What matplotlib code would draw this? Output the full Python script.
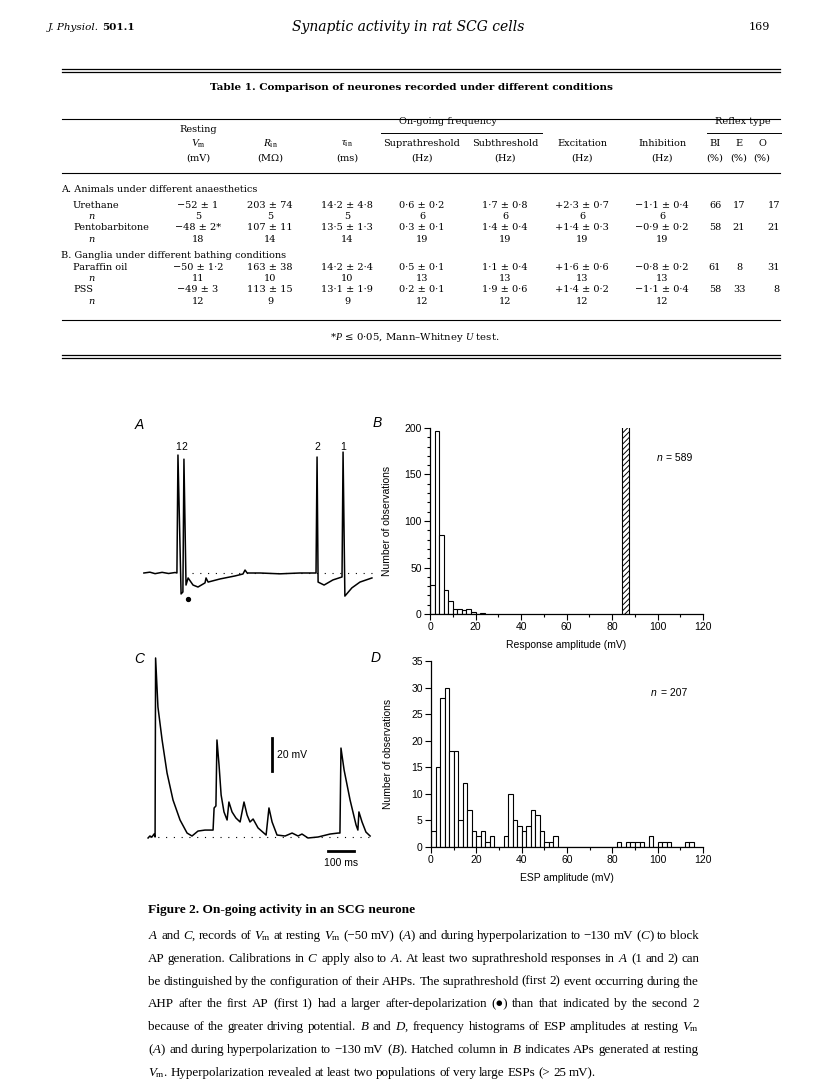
import numpy as np
import matplotlib
matplotlib.use('Agg')
import matplotlib.pyplot as plt
from matplotlib.lines import Line2D
from matplotlib.ticker import MultipleLocator

plt.rcParams['mathtext.fontset'] = 'custom'
plt.rcParams['mathtext.rm'] = 'Liberation Serif'
plt.rcParams['mathtext.it'] = 'Liberation Serif:italic'
plt.rcParams['mathtext.bf'] = 'Liberation Serif:bold'
plt.rcParams['hatch.linewidth'] = 0.7

SERIF = 'DejaVu Serif'
CAP = ['Liberation Serif', 'DejaVu Serif']
SANS = 'Liberation Sans'

# ---- Table 1 values
groups = ['A. Animals under different anaesthetics',
          'B. Ganglia under different bathing conditions']
conditions = ['Urethane', 'Pentobarbitone', 'Paraffin oil', 'PSS']
vm = ['\u221252 \u00b1 1', '\u221248 \u00b1 2*', '\u221250 \u00b1 1\u00b72', '\u221249 \u00b1 3']
vm_n = [5, 18, 11, 12]
rin = ['203 \u00b1 74', '107 \u00b1 11', '163 \u00b1 38', '113 \u00b1 15']
rin_n = [5, 14, 10, 9]
tau = ['14\u00b72 \u00b1 4\u00b78', '13\u00b75 \u00b1 1\u00b73', '14\u00b72 \u00b1 2\u00b74', '13\u00b71 \u00b1 1\u00b79']
tau_n = [5, 14, 10, 9]
supra = ['0\u00b76 \u00b1 0\u00b72', '0\u00b73 \u00b1 0\u00b71', '0\u00b75 \u00b1 0\u00b71', '0\u00b72 \u00b1 0\u00b71']
subth = ['1\u00b77 \u00b1 0\u00b78', '1\u00b74 \u00b1 0\u00b74', '1\u00b71 \u00b1 0\u00b74', '1\u00b79 \u00b1 0\u00b76']
excit = ['+2\u00b73 \u00b1 0\u00b77', '+1\u00b74 \u00b1 0\u00b73', '+1\u00b76 \u00b1 0\u00b76', '+1\u00b74 \u00b1 0\u00b72']
inhib = ['\u22121\u00b71 \u00b1 0\u00b74', '\u22120\u00b79 \u00b1 0\u00b72', '\u22120\u00b78 \u00b1 0\u00b72', '\u22121\u00b71 \u00b1 0\u00b74']
freq_n = [6, 19, 13, 12]
reflex_bi = [66, 58, 61, 58]
reflex_e = [17, 21, 8, 33]
reflex_o = [17, 21, 31, 8]

# ---- histogram B (2 mV bins from 0), hatched column = APs
b_counts = [31, 197, 85, 26, 14, 5, 5, 4, 5, 2, 0, 1]
ap_left, ap_count = 84.5, 214
# ---- histogram D (2 mV bins from 0)
d_counts = [3, 15, 28, 30, 18, 18, 5, 12, 7, 3,
            2, 3, 1, 2, 0, 0, 2, 10, 5, 4,
            3, 4, 7, 6, 3, 1, 1, 2, 0, 0,
            0, 0, 0, 0, 0, 0, 0, 0, 0, 0,
            0, 1, 0, 1, 1, 1, 1, 0, 2, 0,
            1, 1, 1, 0, 0, 0, 1, 1]

# ---- voltage records (ms, mV)
a_t = [15, 38, 58, 85, 110, 135, 142, 146, 158, 165, 169, 177, 185, 204, 223, 250, 254, 262,
       308, 365, 396, 404, 412, 462, 538, 615, 677, 681, 685, 708, 742, 777, 781, 788, 815, 846, 892]
a_v = [-50, -49.5, -50.4, -49.6, -50.3, -49.7, -50, 21.5, -62.7, -61.5, 19, -57.3, -53, -57.3, -58.5, -56, -53, -55.5,
       -53.6, -51.8, -50.6, -48.2, -50, -50, -50.5, -50, -50, 20.3, -55.5, -57.3, -54.2, -52.4, 23.3, -64, -59, -55.5, -53]
c_t = [31, 38, 46, 54, 58, 60, 69, 85, 104, 127, 154, 181, 200, 223, 250, 281, 285, 292, 296, 304,
       312, 323, 335, 342, 354, 369, 385, 400, 412, 423, 435, 454, 485, 496, 508, 527, 558, 585,
       608, 623, 646, 685, 731, 762, 769, 773, 785, 808, 831, 838, 842, 854, 869, 885]
c_v = [-130.6, -129.4, -130, -128.2, -130, -21.5, -51.2, -71.2, -91.2, -107.6, -119.7, -127.6, -129.4, -126.4,
       -125.8, -125.8, -112.4, -111.2, -71.2, -86.4, -104.5, -114.8, -119.7, -108.8, -114.8, -118.5, -120.9,
       -108.8, -116.7, -120.9, -119.1, -124.5, -128.8, -112.4, -120.9, -128.8, -129.4, -127.6, -129.4, -128.2,
       -130.6, -130, -128.2, -127.6, -127.6, -76.1, -89.4, -107.6, -122.7, -125.8, -114.8, -120.9, -127, -129.4]

caption_title = 'Figure 2. On-going activity in an SCG neurone'
caption = [
    '$A$ and $C$, records of $V_\\mathrm{m}$ at resting $V_\\mathrm{m}$ (\u221250 mV) ($A$) and during hyperpolarization to \u2212130 mV ($C$) to block',
    'AP generation. Calibrations in $C$ apply also to $A$. At least two suprathreshold responses in $A$ (1 and 2) can',
    'be distinguished by the configuration of their AHPs. The suprathreshold (first 2) event occurring during the',
    'AHP after the first AP (first 1) had a larger after-depolarization (\u25cf) than that indicated by the second 2',
    'because of the greater driving potential. $B$ and $D$, frequency histograms of ESP amplitudes at resting $V_\\mathrm{m}$',
    '($A$) and during hyperpolarization to \u2212130 mV ($B$). Hatched column in $B$ indicates APs generated at resting',
    '$V_\\mathrm{m}$. Hyperpolarization revealed at least two populations of very large ESPs (> 25 mV).',
]

W, H = 816, 1088
fig = plt.figure(figsize=(W / 100, H / 100), dpi=100)
renderer = fig.canvas.get_renderer()


def fx(x):
    return x / W


def fy(y):
    return 1 - y / H


def txt(x, y, s, **kw):
    kw.setdefault('va', 'center')
    kw.setdefault('family', SERIF)
    return fig.text(fx(x), fy(y), s, **kw)


def hline(x0, x1, y, lw=0.9):
    fig.add_artist(Line2D([fx(x0), fx(x1)], [fy(y), fy(y)], transform=fig.transFigure,
                          color='black', lw=lw))


# running head
jp = txt(48, 27, 'J. Physiol.', style='italic', size=7.5, ha='left')
jp_w = jp.get_window_extent(renderer).width
txt(48 + jp_w + 3, 27, '501.1', weight='bold', size=7.5, ha='left')
txt(408, 27, 'Synaptic activity in rat SCG cells', style='italic', size=10, ha='center')
txt(770, 27, '169', size=8, ha='right')

# ---- table
L, R = 62, 780
hline(L, R, 69)
hline(L, R, 72)
txt(411, 88, 'Table 1. Comparison of neurones recorded under different conditions',
    weight='bold', size=7.5, ha='center')
hline(L, R, 119, lw=0.8)

fs = 7.0
txt(198, 129, 'Resting', size=fs, ha='center')
txt(448, 122, 'On-going frequency', size=fs, ha='center')
txt(743, 122, 'Reflex type', size=fs, ha='center')
hline(381, 542, 133, lw=0.7)
hline(707, 781, 133, lw=0.7)

cols = [198, 270, 347, 422, 505, 582, 662]
head2 = [r'$V_\mathrm{m}$', r'$R_\mathrm{in}$', r'$\tau_\mathrm{in}$',
         'Suprathreshold', 'Subthreshold', 'Excitation', 'Inhibition']
head3 = ['(mV)', '(M\u03a9)', '(ms)', '(Hz)', '(Hz)', '(Hz)', '(Hz)']
for x, h2, h3 in zip(cols, head2, head3):
    txt(x, 144, h2, size=fs + 1 if h2.startswith('$') else fs, ha='center')
    txt(x, 158, h3, size=fs, ha='center')
for x, h in zip([715, 739, 762], ['BI', 'E', 'O']):
    txt(x, 144, h, size=fs, ha='center')
    txt(x, 158, '(%)', size=fs, ha='center')
hline(L, R, 173, lw=0.8)

row_y = [205, 228, 267, 290]
group_y = [190, 255]
for gy, g in zip(group_y, groups):
    txt(61, gy, g, size=fs, ha='left')
for i, y in enumerate(row_y):
    ny = y + 11.5
    txt(73, y, conditions[i], size=fs, ha='left')
    txt(88, ny, 'n', size=fs, ha='left', style='italic')
    vals = [vm[i], rin[i], tau[i], supra[i], subth[i], excit[i], inhib[i]]
    ns = [vm_n[i], rin_n[i], tau_n[i], freq_n[i], freq_n[i], freq_n[i], freq_n[i]]
    for x, v, n in zip(cols, vals, ns):
        txt(x, y, v, size=fs, ha='center')
        txt(x, ny, str(n), size=fs, ha='center')
    txt(715, y, str(reflex_bi[i]), size=fs, ha='center')
    txt(739, y, str(reflex_e[i]), size=fs, ha='center')
    txt(780, y, str(reflex_o[i]), size=fs, ha='right')

hline(L, R, 320, lw=0.8)
txt(415, 337, '*$P$ \u2264 0\u00b705, Mann\u2013Whitney $U$ test.', size=fs + 0.3, ha='center')
hline(L, R, 355)
hline(L, R, 358)

# ---- voltage traces A and C (100 ms = 26 px, 20 mV = 33 px)
pxms, pxmv = 0.26, 1.65
axA = fig.add_axes([fx(140), fy(610), 235 / W, 175 / H])
axA.set_xlim(0, 235 / pxms)
axA.set_ylim(-50 - (610 - 573) / pxmv, -50 + (573 - 435) / pxmv)
axA.plot(a_t, a_v, color='black', lw=1.1, solid_joinstyle='round')
axA.plot([200, 892], [-50, -50], color='black', lw=0.8, ls=(0, (1, 6)))
for t, lab in zip([146, 169, 681, 781], ['1', '2', '2', '1']):
    axA.text(t, 26.5, lab, family=SANS, size=7.5, ha='center', va='center')
axA.plot([185], [-65.8], 'o', color='black', ms=2.8)
axA.axis('off')

axC = fig.add_axes([fx(140), fy(875), 235 / W, 225 / H])
axC.set_xlim(0, 235 / pxms)
axC.set_ylim(-130 - (875 - 837) / pxmv, -130 + (837 - 650) / pxmv)
axC.plot(c_t, c_v, color='black', lw=1.1, solid_joinstyle='round')
axC.plot([40, 890], [-130, -130], color='black', lw=0.8, ls=(0, (1, 6)))
axC.plot([508, 508], [-90, -70], color='black', lw=2)
axC.text(527, -80, '20 mV', family=SANS, size=7.5, ha='left', va='center')
axC.plot([723, 823], [-138.5, -138.5], color='black', lw=2)
axC.text(773, -145.5, '100 ms', family=SANS, size=7.5, ha='center', va='center')
axC.axis('off')

for x, y, lab in [(139, 425, 'A'), (377, 423, 'B'), (139, 659, 'C'), (376, 658, 'D')]:
    txt(x, y, lab, family=SANS, style='italic', size=10, ha='center')


# ---- histograms
def style_hist(ax, ymax, ymaj, ymin, xlabel, n_text, nx, ny):
    ax.set_xlim(0, 120)
    ax.set_ylim(0, ymax)
    ax.xaxis.set_major_locator(MultipleLocator(20))
    ax.xaxis.set_minor_locator(MultipleLocator(10))
    ax.yaxis.set_major_locator(MultipleLocator(ymaj))
    if ymin:
        ax.yaxis.set_minor_locator(MultipleLocator(ymin))
    for s in ['top', 'right']:
        ax.spines[s].set_visible(False)
    for s in ['left', 'bottom']:
        ax.spines[s].set_linewidth(0.9)
    ax.tick_params(which='major', direction='out', length=4, width=0.8, labelsize=7.5, pad=2)
    ax.tick_params(which='minor', direction='out', length=2.5, width=0.8)
    for lab in ax.get_xticklabels() + ax.get_yticklabels():
        lab.set_family(SANS)
    ax.set_xlabel(xlabel, family=SANS, size=7.5)
    ax.set_ylabel('Number of observations', family=SANS, size=7.5)
    ax.yaxis.set_label_coords(-0.14, 0.5)
    ax.xaxis.set_label_coords(0.5, -0.14)
    ax.text(nx, ny, 'n', family=SANS, style='italic', size=7.5, transform=ax.transAxes, va='center')
    ax.text(nx + 0.035, ny, '= ' + n_text, family=SANS, size=7.5, transform=ax.transAxes, va='center')


axB = fig.add_axes([fx(430), fy(614), 273 / W, 186 / H])
b_left = np.arange(len(b_counts)) * 2
axB.bar(b_left, b_counts, width=2, align='edge', facecolor='white', edgecolor='black', lw=0.8)
axB.bar([ap_left], [ap_count], width=3, align='edge', facecolor='white', edgecolor='black',
        lw=0.8, hatch='//////')
style_hist(axB, 200, 50, 10, 'Response amplitude (mV)', '589', 0.83, 0.84)

axD = fig.add_axes([fx(431), fy(847), 272 / W, 186 / H])
d_left = np.arange(len(d_counts)) * 2
axD.bar(d_left, d_counts, width=2, align='edge', facecolor='white', edgecolor='black', lw=0.8)
style_hist(axD, 35, 5, None, 'ESP amplitude (mV)', '207', 0.81, 0.83)

# ---- caption: one font size for all lines, full lines justified to the column width
cx0, cx1, min_gap, base = 148, 699, 2.8, 10.0
lines = []
for i, line in enumerate(caption):
    arts = [fig.text(0, 0, w, va='baseline', family=CAP, size=base) for w in line.split(' ')]
    lines.append(arts)
scale = min((cx1 - cx0 - min_gap * (len(a) - 1)) /
            sum(t.get_window_extent(renderer).width for t in a) for a in lines[:-1])
size = base * min(scale, 1.1)
for i, arts in enumerate(lines):
    for t in arts:
        t.set_fontsize(size)
    widths = [t.get_window_extent(renderer).width for t in arts]
    gap = (cx1 - cx0 - sum(widths)) / (len(arts) - 1) if i < len(lines) - 1 else 3.0
    x = cx0
    for t, w in zip(arts, widths):
        t.set_position((fx(x), fy(939 + 22.8 * i)))
        x += w + gap

txt(148, 913, caption_title, family=CAP, weight='bold', size=9.6, ha='left', va='baseline')

fig.savefig('out.png', dpi=100)
